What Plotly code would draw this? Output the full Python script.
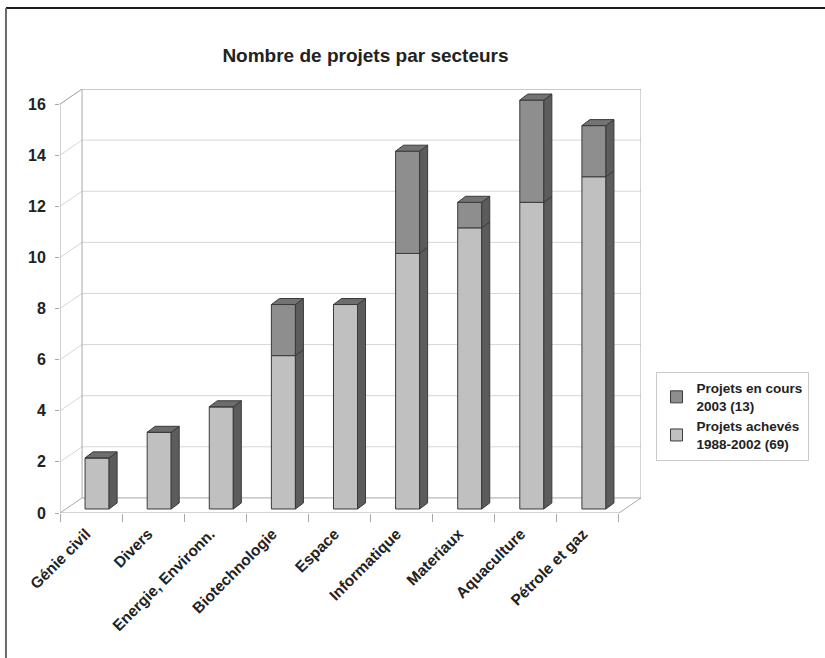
import plotly.graph_objects as go

# ---------------- data ----------------
categories = ["Génie civil", "Divers", "Energie, Environn.", "Biotechnologie", "Espace",
              "Informatique", "Materiaux", "Aquaculture", "Pétrole et gaz"]
acheves = [2, 3, 4, 6, 8, 10, 11, 12, 13]      # Projets achevés 1988-2002 (69)
en_cours = [0, 0, 0, 2, 0, 4, 1, 4, 2]          # Projets en cours 2003 (13)
y_ticks = [0, 2, 4, 6, 8, 10, 12, 14, 16]
name_acheves = "<b>Projets achevés<br>1988-2002 (69)</b>"
name_en_cours = "<b>Projets en cours<br>2003 (13)</b>"

# ---------------- style / geometry ----------------
n = len(categories)
WDX, WDY = 0.355, 0.59        # wall depth offset (x in category units, y in value units)
BDX, BDY = 0.129, 0.235       # bar depth offset
BW = 0.387                    # bar front width
BSHIFT_X, BSHIFT_Y = 0.097, 0.157   # bar placed in the middle of the depth
YMAX = y_ticks[-1]

C_LIGHT, C_DARK = "#c0c0c0", "#8e8e8e"
C_SIDE, C_TOP_L, C_TOP_D = "#5c5c5c", "#6c6c6c", "#737373"
C_EDGE = "#3a3a3a"
C_WALL, C_GRID = "#a8a8a8", "#d6d6d6"

fig = go.Figure()
shapes = []

def line(xs, ys, color, width=1):
    path = "M " + " L ".join("%f,%f" % (a, b) for a, b in zip(xs, ys))
    shapes.append(dict(type="path", path=path, xref="x", yref="y", layer="below",
                       line=dict(color=color, width=width)))

def poly(xs, ys, color):
    fig.add_trace(go.Scatter(x=xs + [xs[0]], y=ys + [ys[0]], mode="lines", fill="toself",
                             fillcolor=color, line=dict(color=C_EDGE, width=1),
                             hoverinfo="skip", showlegend=False))

x0, x1 = -0.5, n - 0.5
# gridlines: diagonal from the front axis, then horizontal on the back wall
for t in y_ticks[1:]:
    line([x0, x0 + WDX, x1 + WDX], [t, t + WDY, t + WDY], C_GRID)
# walls and floor
line([x0, x0 + WDX, x1 + WDX, x1 + WDX], [YMAX, YMAX + WDY, YMAX + WDY, WDY], C_WALL)
line([x0 + WDX, x0 + WDX], [WDY, YMAX + WDY], C_WALL)
line([x0, x0 + WDX, x1 + WDX, x1], [0, WDY, WDY, 0], C_WALL)
line([x0, x1], [0, 0], C_WALL)
line([x0, x0], [0, YMAX], C_WALL)

# front faces as real bars
centers = [i + BSHIFT_X for i in range(n)]
base_a = [BSHIFT_Y] * n
base_c = [BSHIFT_Y + a for a in acheves]
fig.add_trace(go.Bar(x=centers, y=acheves, base=base_a, width=BW, name=name_acheves,
                     marker=dict(color=C_LIGHT, line=dict(color=C_EDGE, width=1))))
fig.add_trace(go.Bar(x=centers, y=en_cours, base=base_c, width=BW, name=name_en_cours,
                     marker=dict(color=C_DARK, line=dict(color=C_EDGE, width=1))))

# side and top faces
for i in range(n):
    c = centers[i]
    xl, xr = c - BW / 2, c + BW / 2
    segs = [(BSHIFT_Y, BSHIFT_Y + acheves[i], C_TOP_L)]
    if en_cours[i] > 0:
        segs.append((BSHIFT_Y + acheves[i], BSHIFT_Y + acheves[i] + en_cours[i], C_TOP_D))
    for (ya, yb, _) in segs:
        poly([xr, xr + BDX, xr + BDX, xr], [ya, ya + BDY, yb + BDY, yb], C_SIDE)
    top = segs[-1][1]
    poly([xl, xl + BDX, xr + BDX, xr], [top, top + BDY, top + BDY, top], segs[-1][2])

# frame of the picture
shapes += [
    dict(type="line", xref="paper", yref="paper", x0=-0.093, x1=1.32, y0=1.191, y1=1.191,
         line=dict(color="#1a1a1a", width=2)),
    dict(type="line", xref="paper", yref="paper", x0=-0.093, x1=-0.093, y0=1.191, y1=-0.4,
         line=dict(color="#6a6a6a", width=2)),
]

fig.update_layout(
    width=825, height=658,
    margin=dict(l=60, r=184, t=89, b=145, pad=0),
    paper_bgcolor="white", plot_bgcolor="white",
    barmode="overlay",
    font=dict(family="Arial, Liberation Sans, sans-serif", color="#222222"),
    title=dict(text="<b>Nombre de projets par secteurs</b>", font=dict(size=19, color="#222222"),
               x=0.443, xref="container", xanchor="center", y=0.916, yref="container",
               yanchor="middle"),
    xaxis=dict(range=[x0, x1 + WDX], tickmode="array", tickvals=[i - 0.08 for i in range(n)],
               ticktext=["<b>%s</b>" % c for c in categories], tickangle=-45,
               ticks="", showgrid=False, zeroline=False, showline=False,
               tickfont=dict(size=15.5, color="#222222"), ticklabelstandoff=8,
               minor=dict(tickmode="array", tickvals=[i - 0.5 for i in range(n + 1)],
                          ticks="outside", ticklen=8, tickcolor=C_WALL, showgrid=False)),
    yaxis=dict(range=[0, YMAX + WDY], tickmode="array", tickvals=y_ticks,
               ticktext=["<b>%d</b>" % t for t in y_ticks],
               ticks="outside", ticklen=4, tickcolor=C_WALL, showgrid=False, zeroline=False,
               showline=False, tickfont=dict(size=16, color="#222222"), ticklabelstandoff=6),
    legend=dict(x=1.025, y=0.333, xanchor="left", yanchor="top", traceorder="reversed",
                bordercolor="#c8c8c8", borderwidth=1, bgcolor="white",
                font=dict(size=13.5, color="#222222"), itemwidth=30),
    showlegend=True,
    shapes=shapes,
)

fig.write_html("out.html")
